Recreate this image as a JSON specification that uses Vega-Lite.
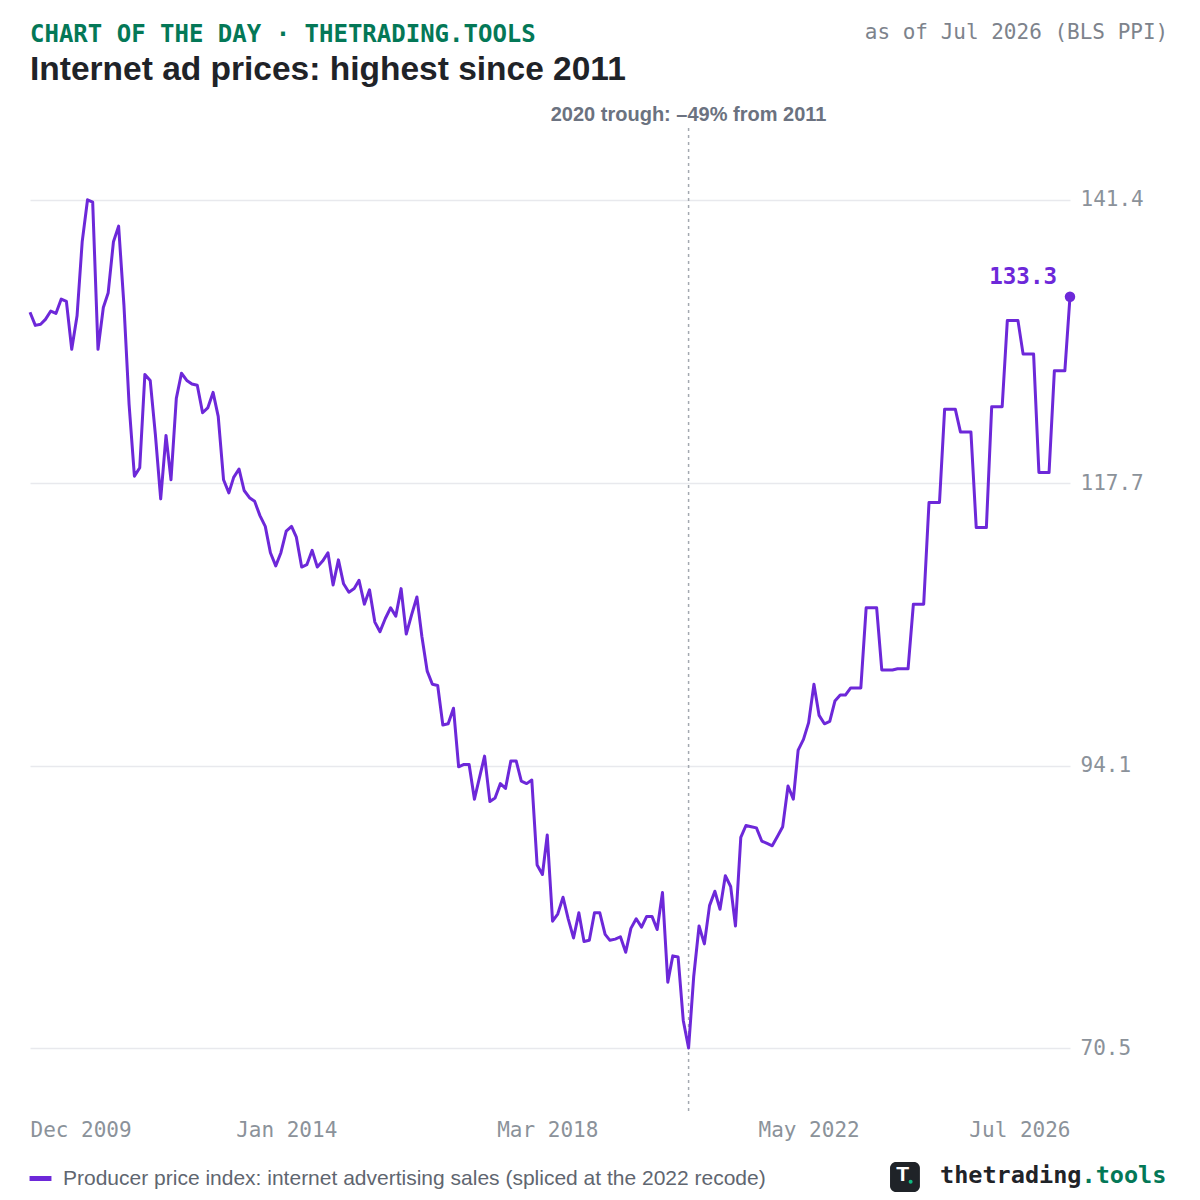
{
  "$schema": "https://vega.github.io/schema/vega-lite/v6.json",
  "width": 1040,
  "height": 987,
  "autosize": {"type": "none"},
  "padding": {"left": 30, "top": 128, "right": 130, "bottom": 85},
  "background": "#ffffff",
  "title": {
    "text": "CHART OF THE DAY · THETRADING.TOOLS",
    "subtitle": "Internet ad prices: highest since 2011",
    "anchor": "start",
    "frame": "group",
    "font": "DejaVu Sans Mono",
    "fontSize": 24,
    "fontWeight": "bold",
    "color": "#047857",
    "subtitleFont": "Liberation Sans",
    "subtitleFontSize": 33.5,
    "subtitleFontWeight": "bold",
    "subtitleColor": "#1f2328",
    "subtitlePadding": 7,
    "offset": -64
  },
  "data": {
    "values": [
      {"date": "2009-12-01", "ppi": 132.0},
      {"date": "2010-01-01", "ppi": 130.9},
      {"date": "2010-02-01", "ppi": 131.0},
      {"date": "2010-03-01", "ppi": 131.4},
      {"date": "2010-04-01", "ppi": 132.1},
      {"date": "2010-05-01", "ppi": 131.9},
      {"date": "2010-06-01", "ppi": 133.1},
      {"date": "2010-07-01", "ppi": 132.9},
      {"date": "2010-08-01", "ppi": 128.9},
      {"date": "2010-09-01", "ppi": 131.7},
      {"date": "2010-10-01", "ppi": 137.9},
      {"date": "2010-11-01", "ppi": 141.4},
      {"date": "2010-12-01", "ppi": 141.2},
      {"date": "2011-01-01", "ppi": 128.9},
      {"date": "2011-02-01", "ppi": 132.4},
      {"date": "2011-03-01", "ppi": 133.6},
      {"date": "2011-04-01", "ppi": 137.9},
      {"date": "2011-05-01", "ppi": 139.2},
      {"date": "2011-06-01", "ppi": 132.6},
      {"date": "2011-07-01", "ppi": 124.3},
      {"date": "2011-08-01", "ppi": 118.3},
      {"date": "2011-09-01", "ppi": 119.0},
      {"date": "2011-10-01", "ppi": 126.8},
      {"date": "2011-11-01", "ppi": 126.3},
      {"date": "2011-12-01", "ppi": 121.8},
      {"date": "2012-01-01", "ppi": 116.4},
      {"date": "2012-02-01", "ppi": 121.7},
      {"date": "2012-03-01", "ppi": 118.0},
      {"date": "2012-04-01", "ppi": 124.8},
      {"date": "2012-05-01", "ppi": 126.9},
      {"date": "2012-06-01", "ppi": 126.3},
      {"date": "2012-07-01", "ppi": 126.0},
      {"date": "2012-08-01", "ppi": 125.9},
      {"date": "2012-09-01", "ppi": 123.6},
      {"date": "2012-10-01", "ppi": 124.0},
      {"date": "2012-11-01", "ppi": 125.3},
      {"date": "2012-12-01", "ppi": 123.3},
      {"date": "2013-01-01", "ppi": 118.0},
      {"date": "2013-02-01", "ppi": 116.9},
      {"date": "2013-03-01", "ppi": 118.2},
      {"date": "2013-04-01", "ppi": 118.9},
      {"date": "2013-05-01", "ppi": 117.1},
      {"date": "2013-06-01", "ppi": 116.5},
      {"date": "2013-07-01", "ppi": 116.2},
      {"date": "2013-08-01", "ppi": 115.0},
      {"date": "2013-09-01", "ppi": 114.1},
      {"date": "2013-10-01", "ppi": 111.9},
      {"date": "2013-11-01", "ppi": 110.8},
      {"date": "2013-12-01", "ppi": 111.9},
      {"date": "2014-01-01", "ppi": 113.7},
      {"date": "2014-02-01", "ppi": 114.1},
      {"date": "2014-03-01", "ppi": 113.2},
      {"date": "2014-04-01", "ppi": 110.7},
      {"date": "2014-05-01", "ppi": 110.9},
      {"date": "2014-06-01", "ppi": 112.1},
      {"date": "2014-07-01", "ppi": 110.7},
      {"date": "2014-08-01", "ppi": 111.2},
      {"date": "2014-09-01", "ppi": 111.9},
      {"date": "2014-10-01", "ppi": 109.2},
      {"date": "2014-11-01", "ppi": 111.3},
      {"date": "2014-12-01", "ppi": 109.3},
      {"date": "2015-01-01", "ppi": 108.6},
      {"date": "2015-02-01", "ppi": 108.9},
      {"date": "2015-03-01", "ppi": 109.6},
      {"date": "2015-04-01", "ppi": 107.6},
      {"date": "2015-05-01", "ppi": 108.8},
      {"date": "2015-06-01", "ppi": 106.1},
      {"date": "2015-07-01", "ppi": 105.3},
      {"date": "2015-08-01", "ppi": 106.4},
      {"date": "2015-09-01", "ppi": 107.3},
      {"date": "2015-10-01", "ppi": 106.6},
      {"date": "2015-11-01", "ppi": 108.9},
      {"date": "2015-12-01", "ppi": 105.1},
      {"date": "2016-01-01", "ppi": 106.7},
      {"date": "2016-02-01", "ppi": 108.2},
      {"date": "2016-03-01", "ppi": 104.9},
      {"date": "2016-04-01", "ppi": 102.0},
      {"date": "2016-05-01", "ppi": 100.9},
      {"date": "2016-06-01", "ppi": 100.8},
      {"date": "2016-07-01", "ppi": 97.5},
      {"date": "2016-08-01", "ppi": 97.6},
      {"date": "2016-09-01", "ppi": 98.9},
      {"date": "2016-10-01", "ppi": 94.0},
      {"date": "2016-11-01", "ppi": 94.2},
      {"date": "2016-12-01", "ppi": 94.2},
      {"date": "2017-01-01", "ppi": 91.3},
      {"date": "2017-02-01", "ppi": 93.2},
      {"date": "2017-03-01", "ppi": 94.9},
      {"date": "2017-04-01", "ppi": 91.1},
      {"date": "2017-05-01", "ppi": 91.4},
      {"date": "2017-06-01", "ppi": 92.6},
      {"date": "2017-07-01", "ppi": 92.2},
      {"date": "2017-08-01", "ppi": 94.5},
      {"date": "2017-09-01", "ppi": 94.5},
      {"date": "2017-10-01", "ppi": 92.8},
      {"date": "2017-11-01", "ppi": 92.6},
      {"date": "2017-12-01", "ppi": 92.9},
      {"date": "2018-01-01", "ppi": 85.8},
      {"date": "2018-02-01", "ppi": 85.0},
      {"date": "2018-03-01", "ppi": 88.3},
      {"date": "2018-04-01", "ppi": 81.1},
      {"date": "2018-05-01", "ppi": 81.7},
      {"date": "2018-06-01", "ppi": 83.1},
      {"date": "2018-07-01", "ppi": 81.3},
      {"date": "2018-08-01", "ppi": 79.7},
      {"date": "2018-09-01", "ppi": 81.8},
      {"date": "2018-10-01", "ppi": 79.4},
      {"date": "2018-11-01", "ppi": 79.5},
      {"date": "2018-12-01", "ppi": 81.8},
      {"date": "2019-01-01", "ppi": 81.8},
      {"date": "2019-02-01", "ppi": 80.0},
      {"date": "2019-03-01", "ppi": 79.5},
      {"date": "2019-04-01", "ppi": 79.6},
      {"date": "2019-05-01", "ppi": 79.8},
      {"date": "2019-06-01", "ppi": 78.5},
      {"date": "2019-07-01", "ppi": 80.5},
      {"date": "2019-08-01", "ppi": 81.3},
      {"date": "2019-09-01", "ppi": 80.6},
      {"date": "2019-10-01", "ppi": 81.5},
      {"date": "2019-11-01", "ppi": 81.5},
      {"date": "2019-12-01", "ppi": 80.4},
      {"date": "2020-01-01", "ppi": 83.5},
      {"date": "2020-02-01", "ppi": 76.0},
      {"date": "2020-03-01", "ppi": 78.2},
      {"date": "2020-04-01", "ppi": 78.1},
      {"date": "2020-05-01", "ppi": 72.8},
      {"date": "2020-06-01", "ppi": 70.5},
      {"date": "2020-07-01", "ppi": 76.5},
      {"date": "2020-08-01", "ppi": 80.7},
      {"date": "2020-09-01", "ppi": 79.2},
      {"date": "2020-10-01", "ppi": 82.4},
      {"date": "2020-11-01", "ppi": 83.6},
      {"date": "2020-12-01", "ppi": 82.1},
      {"date": "2021-01-01", "ppi": 84.9},
      {"date": "2021-02-01", "ppi": 84.0},
      {"date": "2021-03-01", "ppi": 80.7},
      {"date": "2021-04-01", "ppi": 88.1},
      {"date": "2021-05-01", "ppi": 89.1},
      {"date": "2021-06-01", "ppi": 89.0},
      {"date": "2021-07-01", "ppi": 88.9},
      {"date": "2021-08-01", "ppi": 87.8},
      {"date": "2021-09-01", "ppi": 87.6},
      {"date": "2021-10-01", "ppi": 87.4},
      {"date": "2021-11-01", "ppi": 88.2},
      {"date": "2021-12-01", "ppi": 89.0},
      {"date": "2022-01-01", "ppi": 92.4},
      {"date": "2022-02-01", "ppi": 91.3},
      {"date": "2022-03-01", "ppi": 95.4},
      {"date": "2022-04-01", "ppi": 96.3},
      {"date": "2022-05-01", "ppi": 97.7},
      {"date": "2022-06-01", "ppi": 100.9},
      {"date": "2022-07-01", "ppi": 98.3},
      {"date": "2022-08-01", "ppi": 97.6},
      {"date": "2022-09-01", "ppi": 97.8},
      {"date": "2022-10-01", "ppi": 99.5},
      {"date": "2022-11-01", "ppi": 100.0},
      {"date": "2022-12-01", "ppi": 100.0},
      {"date": "2023-01-01", "ppi": 100.6},
      {"date": "2023-02-01", "ppi": 100.6},
      {"date": "2023-03-01", "ppi": 100.6},
      {"date": "2023-04-01", "ppi": 107.3},
      {"date": "2023-05-01", "ppi": 107.3},
      {"date": "2023-06-01", "ppi": 107.3},
      {"date": "2023-07-01", "ppi": 102.1},
      {"date": "2023-08-01", "ppi": 102.1},
      {"date": "2023-09-01", "ppi": 102.1},
      {"date": "2023-10-01", "ppi": 102.2},
      {"date": "2023-11-01", "ppi": 102.2},
      {"date": "2023-12-01", "ppi": 102.2},
      {"date": "2024-01-01", "ppi": 107.6},
      {"date": "2024-02-01", "ppi": 107.6},
      {"date": "2024-03-01", "ppi": 107.6},
      {"date": "2024-04-01", "ppi": 116.1},
      {"date": "2024-05-01", "ppi": 116.1},
      {"date": "2024-06-01", "ppi": 116.1},
      {"date": "2024-07-01", "ppi": 123.9},
      {"date": "2024-08-01", "ppi": 123.9},
      {"date": "2024-09-01", "ppi": 123.9},
      {"date": "2024-10-01", "ppi": 122.0},
      {"date": "2024-11-01", "ppi": 122.0},
      {"date": "2024-12-01", "ppi": 122.0},
      {"date": "2025-01-01", "ppi": 114.0},
      {"date": "2025-02-01", "ppi": 114.0},
      {"date": "2025-03-01", "ppi": 114.0},
      {"date": "2025-04-01", "ppi": 124.1},
      {"date": "2025-05-01", "ppi": 124.1},
      {"date": "2025-06-01", "ppi": 124.1},
      {"date": "2025-07-01", "ppi": 131.3},
      {"date": "2025-08-01", "ppi": 131.3},
      {"date": "2025-09-01", "ppi": 131.3},
      {"date": "2025-10-01", "ppi": 128.5},
      {"date": "2025-11-01", "ppi": 128.5},
      {"date": "2025-12-01", "ppi": 128.5},
      {"date": "2026-01-01", "ppi": 118.6},
      {"date": "2026-02-01", "ppi": 118.6},
      {"date": "2026-03-01", "ppi": 118.6},
      {"date": "2026-04-01", "ppi": 127.1},
      {"date": "2026-05-01", "ppi": 127.1},
      {"date": "2026-06-01", "ppi": 127.1},
      {"date": "2026-07-01", "ppi": 133.3}
    ]
  },
  "layer": [
    {
      "data": {"values": [{}]},
      "mark": {"type": "rule", "color": "#a3a8b0", "strokeWidth": 1.5, "strokeDash": [3, 4]},
      "encoding": {
        "x": {"datum": {"year": 2020, "month": 6, "date": 1, "utc": true}, "type": "temporal"}
      }
    },
    {
      "mark": {"type": "line", "strokeWidth": 3, "strokeJoin": "round"},
      "encoding": {
        "x": {
          "field": "date",
          "type": "temporal",
          "scale": {
            "type": "utc",
            "domain": [
              {"year": 2009, "month": 12, "date": 1, "utc": true},
              {"year": 2026, "month": 7, "date": 1, "utc": true}
            ]
          },
          "axis": {
            "values": [
              {"year": 2009, "month": 12, "date": 1, "utc": true},
              {"year": 2014, "month": 1, "date": 1, "utc": true},
              {"year": 2018, "month": 3, "date": 1, "utc": true},
              {"year": 2022, "month": 5, "date": 1, "utc": true},
              {"year": 2026, "month": 7, "date": 1, "utc": true}
            ],
            "format": "%b %Y",
            "title": null,
            "grid": false,
            "domain": false,
            "ticks": false,
            "labelFlush": true,
            "labelPadding": 4,
            "labelFont": "DejaVu Sans Mono",
            "labelFontSize": 21,
            "labelColor": "#8b929a"
          }
        },
        "y": {
          "field": "ppi",
          "type": "quantitative",
          "scale": {"domain": [64.9, 147.4], "zero": false, "nice": false},
          "axis": {
            "orient": "right",
            "values": [70.5, 94.1, 117.7, 141.4],
            "format": ".1f",
            "title": null,
            "domain": false,
            "ticks": false,
            "grid": true,
            "gridColor": "#e8e9ed",
            "gridWidth": 1.5,
            "labelPadding": 10,
            "labelFont": "DejaVu Sans Mono",
            "labelFontSize": 21,
            "labelColor": "#8b929a"
          }
        },
        "color": {
          "datum": "Producer price index: internet advertising sales (spliced at the 2022 recode)",
          "scale": {"range": ["#6d28d9"]},
          "legend": {
            "title": null,
            "orient": "bottom",
            "offset": 25,
            "symbolType": "stroke",
            "symbolStrokeWidth": 5,
            "symbolSize": 480,
            "symbolOffset": -3,
            "labelOffset": 9,
            "labelFont": "Liberation Sans",
            "labelFontSize": 21,
            "labelColor": "#5f6670",
            "labelLimit": 0
          }
        }
      }
    },
    {
      "transform": [{"filter": "utcyear(datum.date) === 2026 && utcmonth(datum.date) === 6"}],
      "mark": {"type": "point", "filled": true, "size": 110, "color": "#6d28d9", "opacity": 1},
      "encoding": {
        "x": {"field": "date", "type": "temporal"},
        "y": {"field": "ppi", "type": "quantitative"}
      }
    },
    {
      "transform": [{"filter": "utcyear(datum.date) === 2026 && utcmonth(datum.date) === 6"}],
      "mark": {
        "type": "text",
        "align": "right",
        "baseline": "alphabetic",
        "dx": -13,
        "dy": -13,
        "font": "DejaVu Sans Mono",
        "fontSize": 22.5,
        "fontWeight": "bold",
        "color": "#6d28d9"
      },
      "encoding": {
        "x": {"field": "date", "type": "temporal"},
        "y": {"field": "ppi", "type": "quantitative"},
        "text": {"field": "ppi", "type": "quantitative", "format": ".1f"}
      }
    },
    {
      "data": {"values": [{"label": "2020 trough: –49% from 2011"}]},
      "mark": {
        "type": "text",
        "align": "center",
        "baseline": "middle",
        "font": "Liberation Sans",
        "fontSize": 20,
        "fontWeight": "bold",
        "color": "#6b7280"
      },
      "encoding": {
        "x": {"datum": {"year": 2020, "month": 6, "date": 1, "utc": true}, "type": "temporal"},
        "y": {"datum": 148.5, "type": "quantitative"},
        "text": {"field": "label"}
      }
    },
    {
      "data": {"values": [{"label": "as of Jul 2026 (BLS PPI)"}]},
      "mark": {
        "type": "text",
        "align": "right",
        "baseline": "middle",
        "font": "DejaVu Sans Mono",
        "fontSize": 21,
        "color": "#7d838c"
      },
      "encoding": {
        "x": {"datum": {"year": 2028, "month": 1, "date": 24, "utc": true}, "type": "temporal"},
        "y": {"datum": 155.3, "type": "quantitative"},
        "text": {"field": "label"}
      }
    },
    {
      "data": {"values": [{}]},
      "mark": {"type": "rect", "cornerRadius": 6, "color": "#1f2328"},
      "encoding": {
        "x": {"datum": {"year": 2023, "month": 8, "date": 18, "utc": true}, "type": "temporal"},
        "x2": {"datum": {"year": 2024, "month": 2, "date": 8, "utc": true}},
        "y": {"datum": 60.97, "type": "quantitative"},
        "y2": {"datum": 58.46}
      }
    },
    {
      "data": {"values": [{"label": "T"}]},
      "mark": {
        "type": "text",
        "align": "center",
        "baseline": "middle",
        "font": "Liberation Sans",
        "fontSize": 21,
        "fontWeight": "bold",
        "color": "#ffffff"
      },
      "encoding": {
        "x": {"datum": {"year": 2023, "month": 10, "date": 31, "utc": true}, "type": "temporal"},
        "y": {"datum": 59.85, "type": "quantitative"},
        "text": {"field": "label"}
      }
    },
    {
      "data": {"values": [{}]},
      "mark": {"type": "point", "filled": true, "size": 16, "color": "#10b981", "opacity": 1},
      "encoding": {
        "x": {"datum": {"year": 2023, "month": 12, "date": 16, "utc": true}, "type": "temporal"},
        "y": {"datum": 59.32, "type": "quantitative"}
      }
    },
    {
      "data": {"values": [{"label": "thetrading"}]},
      "mark": {
        "type": "text",
        "align": "right",
        "baseline": "alphabetic",
        "font": "DejaVu Sans Mono",
        "fontSize": 23.5,
        "fontWeight": "bold",
        "color": "#1f2328"
      },
      "encoding": {
        "x": {"datum": {"year": 2026, "month": 9, "date": 6, "utc": true}, "type": "temporal"},
        "y": {"datum": 59.24, "type": "quantitative"},
        "text": {"field": "label"}
      }
    },
    {
      "data": {"values": [{"label": ".tools"}]},
      "mark": {
        "type": "text",
        "align": "left",
        "baseline": "alphabetic",
        "font": "DejaVu Sans Mono",
        "fontSize": 23.5,
        "fontWeight": "bold",
        "color": "#047857"
      },
      "encoding": {
        "x": {"datum": {"year": 2026, "month": 9, "date": 6, "utc": true}, "type": "temporal"},
        "y": {"datum": 59.24, "type": "quantitative"},
        "text": {"field": "label"}
      }
    }
  ],
  "config": {
    "view": {"stroke": null}
  }
}
